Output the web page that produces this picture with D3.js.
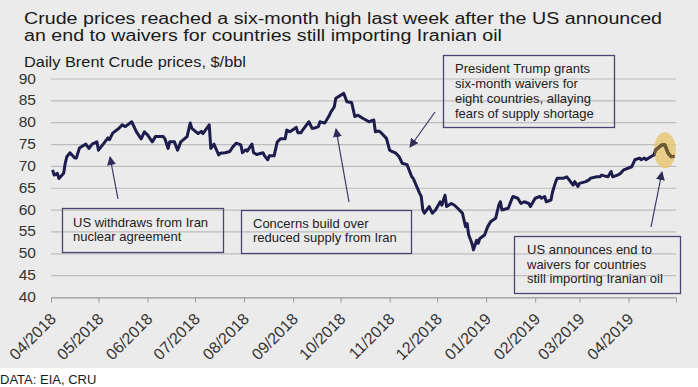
<!DOCTYPE html>
<html>
<head>
<meta charset="utf-8">
<script src="https://cdn.jsdelivr.net/npm/d3@7"></script>
<style>
  body { margin: 0; background: #fff; }
  svg { display: block; font-family: "Liberation Sans", Arial, sans-serif; }
</style>
</head>
<body>
<svg id="chart" width="698" height="387"></svg>
<script>
// Daily Brent crude, $/bbl
var dates = [
  "2018-04-02","2018-04-03","2018-04-05","2018-04-06","2018-04-09","2018-04-10","2018-04-11","2018-04-13",
  "2018-04-16","2018-04-17","2018-04-19","2018-04-23","2018-04-25","2018-04-27","2018-04-30","2018-05-01",
  "2018-05-04","2018-05-07","2018-05-08","2018-05-10","2018-05-14","2018-05-16","2018-05-18","2018-05-22",
  "2018-05-25","2018-05-28","2018-05-30","2018-06-01","2018-06-04","2018-06-06","2018-06-11","2018-06-12",
  "2018-06-14","2018-06-15","2018-06-18","2018-06-20","2018-06-22","2018-06-26","2018-06-28","2018-06-29",
  "2018-07-03","2018-07-05","2018-07-06","2018-07-10","2018-07-11","2018-07-13","2018-07-16","2018-07-17",
  "2018-07-20","2018-07-23","2018-07-25","2018-07-27","2018-07-30","2018-07-31","2018-08-02","2018-08-03",
  "2018-08-06","2018-08-07","2018-08-09","2018-08-13","2018-08-14","2018-08-16","2018-08-17","2018-08-20",
  "2018-08-22","2018-08-24","2018-08-27","2018-08-28","2018-08-30","2018-09-03","2018-09-04","2018-09-06",
  "2018-09-07","2018-09-11","2018-09-13","2018-09-14","2018-09-17","2018-09-18","2018-09-21","2018-09-24",
  "2018-09-25","2018-09-27","2018-09-28","2018-10-03","2018-10-05","2018-10-08","2018-10-10","2018-10-12",
  "2018-10-15","2018-10-17","2018-10-19","2018-10-22","2018-10-23","2018-10-25","2018-10-26","2018-10-30",
  "2018-11-01","2018-11-02","2018-11-05","2018-11-07","2018-11-09","2018-11-12","2018-11-15","2018-11-16",
  "2018-11-20","2018-11-21","2018-11-22","2018-11-23","2018-11-26","2018-11-28","2018-11-30","2018-12-03",
  "2018-12-04","2018-12-06","2018-12-07","2018-12-10","2018-12-12","2018-12-14","2018-12-17","2018-12-19",
  "2018-12-20","2018-12-21","2018-12-23","2018-12-24","2018-12-26","2018-12-27","2018-12-28","2018-12-31",
  "2019-01-02","2019-01-04","2019-01-07","2019-01-09","2019-01-10","2019-01-11","2019-01-15","2019-01-17",
  "2019-01-18","2019-01-21","2019-01-23","2019-01-25","2019-01-28","2019-01-29","2019-02-01","2019-02-04",
  "2019-02-05","2019-02-07","2019-02-08","2019-02-11","2019-02-12","2019-02-14","2019-02-15","2019-02-19",
  "2019-02-21","2019-02-25","2019-02-26","2019-02-28","2019-03-01","2019-03-05","2019-03-07","2019-03-08",
  "2019-03-12","2019-03-14","2019-03-15","2019-03-19","2019-03-21","2019-03-22","2019-03-25","2019-03-27",
  "2019-03-29","2019-04-03","2019-04-05","2019-04-08","2019-04-09","2019-04-11","2019-04-12","2019-04-15",
  "2019-04-17","2019-04-18","2019-04-22","2019-04-24","2019-04-26","2019-04-28","2019-04-30"
];
var prices = [
  69.1,67.9,68.3,67.1,68.3,70.6,72.1,73.0,
  71.8,71.8,74.1,75.0,74.0,75.0,75.5,73.6,
  75.0,76.4,76.0,77.5,78.6,79.4,79.0,80.1,
  77.8,76.2,77.8,77.1,75.5,76.7,76.7,76.2,
  74.0,75.5,75.5,73.6,75.5,76.7,79.8,78.6,
  77.4,77.9,77.4,79.4,74.0,75.0,72.5,72.9,
  73.0,73.3,74.4,75.2,74.8,73.0,73.7,73.4,
  75.0,73.0,72.6,73.0,72.3,71.4,72.3,72.3,
  75.5,76.2,76.2,78.2,77.8,78.8,77.6,77.6,
  78.2,80.1,78.6,78.6,79.0,80.1,79.8,81.6,
  82.4,83.5,85.5,86.6,84.7,84.5,81.3,81.6,
  80.9,80.5,80.1,80.5,77.8,78.0,77.8,76.3,
  73.6,73.4,72.9,72.1,70.6,70.3,67.5,67.1,
  63.7,63.0,59.9,59.2,60.7,59.2,59.9,61.8,
  61.0,63.3,60.7,61.4,61.0,60.3,59.2,56.1,
  56.8,54.2,52.3,50.8,53.0,52.3,53.4,54.2,
  56.1,57.3,58.0,61.0,61.8,59.9,60.3,62.2,
  63.0,62.6,61.4,61.8,61.4,60.7,62.6,63.0,
  62.6,63.0,61.8,62.2,64.1,66.4,67.2,67.2,
  67.5,65.6,66.4,65.3,66.0,66.4,66.8,67.2,
  67.5,67.5,67.9,67.5,68.7,67.5,67.9,68.3,
  69.1,69.8,71.4,71.8,71.4,71.8,71.4,72.1,
  72.5,73.6,74.8,74.8,72.9,72.1,72.2
];
var yTicks = [40, 45, 50, 55, 60, 65, 70, 75, 80, 85, 90];
var titleLines = [
  "Crude prices reached a six-month high last week after the US announced",
  "an end to waivers for countries still importing Iranian oil"
];
var titleWidths = [638, 478];
var subtitle = "Daily Brent Crude prices, $/bbl";
var source = "DATA: EIA, CRU";

var annotations = [
  { lines: ["US withdraws from Iran", "nuclear agreement"], box: [62, 208, 161, 44], tx: 73, ty: 227, lh: 14,
    arrow: [118, 199, 110, 157] },
  { lines: ["Concerns build over", "reduced supply from Iran"], box: [241, 210, 170, 43], tx: 253, ty: 228, lh: 14,
    arrow: [349, 202, 336, 129] },
  { lines: ["President Trump grants", "six-month waivers for", "eight countries, allaying", "fears of supply shortage"],
    box: [443, 55, 171, 72], tx: 455, ty: 73, lh: 15, arrow: [435, 112, 410, 147] },
  { lines: ["US announces end to", "waivers for countries", "still importing Iranian oil"],
    box: [514, 236, 166, 57], tx: 527, ty: 254, lh: 14.5, arrow: [651, 227, 662, 172] }
];

var W = 698, H = 387;
var margin = { left: 51, right: 22 };
var parse = d3.timeParse("%Y-%m-%d");
var data = dates.map(function(d, i) { return { date: parse(d), value: prices[i] }; });

var svg = d3.select("#chart");
var navy = "#1e1c4c";
var boxColor = "#4a4673";

svg.append("rect").attr("width", W).attr("height", 368).attr("fill", "#ebebeb");

var x = d3.scaleTime()
  .domain([new Date(2018, 3, 1), new Date(2019, 4, 1)])
  .range([margin.left, W - margin.right]);
var y = d3.scaleLinear().domain([40, 90]).range([297, 78.5]);

// grid
svg.append("g").selectAll("line")
  .data(yTicks).enter().append("line")
  .attr("x1", x.range()[0]).attr("x2", x.range()[1])
  .attr("y1", d => y(d) + 0.5).attr("y2", d => y(d) + 0.5)
  .attr("stroke", "#bdbdbd").attr("stroke-width", 1.2);

// y labels
svg.append("g").selectAll("text")
  .data(yTicks).enter().append("text")
  .attr("x", 36).attr("y", d => y(d) + 5)
  .attr("text-anchor", "end")
  .attr("font-size", "15.5px").attr("fill", "#333")
  .text(d => d);

// x axis
var months = d3.timeMonth.range(x.domain()[0], d3.timeDay.offset(x.domain()[1], 1));
var xAxis = svg.append("g").attr("transform", "translate(0," + (y(40) + 0.5) + ")")
  .call(d3.axisBottom(x).tickValues(months).tickSize(5).tickSizeOuter(0).tickFormat(""));
xAxis.select(".domain").attr("stroke", "#9a9a9a");
xAxis.selectAll(".tick line").attr("stroke", "#9a9a9a");

svg.append("g").selectAll("text")
  .data(months.slice(0, -1)).enter().append("text")
  .attr("transform", d => "translate(" + (x(d) + 6) + "," + 320 + ") rotate(-45)")
  .attr("text-anchor", "end")
  .attr("font-size", "16px").attr("fill", "#333")
  .text(d3.timeFormat("%m/%Y"));

// highlight ellipse behind the line
var hl = { date: parse("2019-04-24"), value: 73.6, rx: 11, ry: 18 };
svg.append("ellipse")
  .attr("cx", x(hl.date)).attr("cy", y(hl.value))
  .attr("rx", hl.rx).attr("ry", hl.ry)
  .attr("fill", "#e6c875").attr("opacity", 0.85);

svg.append("clipPath").attr("id", "hlclip")
  .append("ellipse")
  .attr("cx", x(hl.date)).attr("cy", y(hl.value))
  .attr("rx", hl.rx).attr("ry", hl.ry);

var line = d3.line().x(d => x(d.date)).y(d => y(d.value));

svg.append("path").datum(data)
  .attr("d", line)
  .attr("fill", "none").attr("stroke", navy)
  .attr("stroke-width", 3).attr("stroke-linejoin", "round");

svg.append("path").datum(data)
  .attr("d", line)
  .attr("clip-path", "url(#hlclip)")
  .attr("fill", "none").attr("stroke", "#6f5a32")
  .attr("stroke-width", 3.2).attr("stroke-linejoin", "round");

// arrow marker
svg.append("defs").append("marker")
  .attr("id", "head").attr("viewBox", "0 0 10 10")
  .attr("refX", 9).attr("refY", 5)
  .attr("markerWidth", 9).attr("markerHeight", 9)
  .attr("markerUnits", "userSpaceOnUse")
  .attr("orient", "auto")
  .append("path").attr("d", "M0,0 L10,5 L0,10 z").attr("fill", "#2f2c5a");

// annotations
var ann = svg.append("g").selectAll("g").data(annotations).enter().append("g");
ann.append("rect")
  .attr("x", d => d.box[0] + 0.5).attr("y", d => d.box[1] + 0.5)
  .attr("width", d => d.box[2]).attr("height", d => d.box[3])
  .attr("fill", "none").attr("stroke", boxColor).attr("stroke-width", 1.3);
ann.append("line")
  .attr("x1", d => d.arrow[0]).attr("y1", d => d.arrow[1])
  .attr("x2", d => d.arrow[2]).attr("y2", d => d.arrow[3])
  .attr("stroke", "#3a3766").attr("stroke-width", 1.2)
  .attr("marker-end", "url(#head)");
ann.each(function(d) {
  var t = d3.select(this).append("text")
    .attr("font-size", "13px").attr("fill", "#222");
  d.lines.forEach(function(s, i) {
    t.append("tspan").attr("x", d.tx).attr("y", d.ty + i * d.lh).text(s);
  });
});

// title: one text, two lines
var title = svg.append("text")
  .attr("font-size", "15.6px").attr("fill", "#1a1a1a");
titleLines.forEach(function(s, i) {
  title.append("tspan")
    .attr("x", 24).attr("y", 23.5 + i * 17.5)
    .attr("textLength", titleWidths[i])
    .attr("lengthAdjust", "spacingAndGlyphs")
    .text(s);
});

svg.append("text")
  .attr("x", 24).attr("y", 67)
  .attr("font-size", "15px").attr("fill", "#1a1a1a")
  .attr("textLength", 222).attr("lengthAdjust", "spacingAndGlyphs")
  .text(subtitle);

svg.append("text")
  .attr("x", 0).attr("y", 384)
  .attr("font-size", "13px").attr("fill", "#1a1a1a")
  .text(source);
</script>
</body>
</html>
